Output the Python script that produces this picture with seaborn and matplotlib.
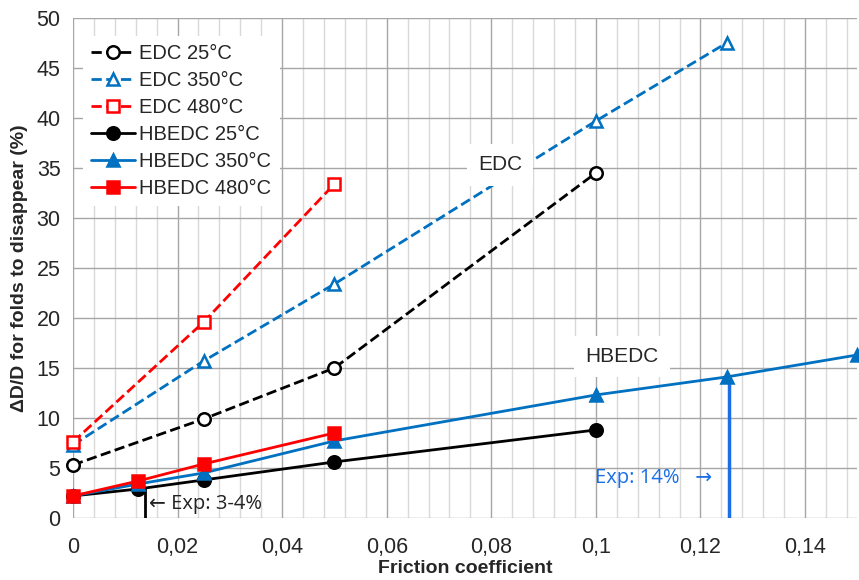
import numpy as np
import pandas as pd
import seaborn as sb
import matplotlib.pyplot as plt

# friction coefficient values and dD/D (%)
edc25_x = [0, 0.025, 0.05, 0.1]
edc25_y = [5.3, 9.9, 15.0, 34.5]
edc350_x = [0, 0.025, 0.05, 0.1, 0.125]
edc350_y = [7.3, 15.7, 23.4, 39.7, 47.5]
edc480_x = [0, 0.025, 0.05]
edc480_y = [7.6, 19.6, 33.4]
hb25_x = [0, 0.0125, 0.025, 0.05, 0.1]
hb25_y = [2.2, 2.9, 3.8, 5.6, 8.8]
hb350_x = [0, 0.0125, 0.025, 0.05, 0.1, 0.125, 0.15]
hb350_y = [2.2, 3.4, 4.5, 7.7, 12.3, 14.1, 16.3]
hb480_x = [0, 0.0125, 0.025, 0.05]
hb480_y = [2.2, 3.7, 5.4, 8.5]

exp_low_x = 0.0137
exp_low_y = 3.0
exp_high_x = 0.1255
exp_high_y = 14.1

xticks = [0, 0.02, 0.04, 0.06, 0.08, 0.1, 0.12, 0.14]
xtick_labels = ["0", "0,02", "0,04", "0,06", "0,08", "0,1", "0,12", "0,14"]

sb.set_style("white")
plt.rcParams['font.family'] = ['Liberation Sans', 'DejaVu Sans']

black = "#000000"
blue = "#0070C0"
red = "#FF0000"

fig = plt.figure(figsize=(8.59, 5.8), dpi=100)
ax = fig.add_axes([0.085, 0.107, 0.913, 0.862])

series = [
    (edc25_x, edc25_y, "EDC 25°C", black, "--", "o", "white"),
    (edc350_x, edc350_y, "EDC 350°C", blue, "--", "^", "white"),
    (edc480_x, edc480_y, "EDC 480°C", red, "--", "s", "white"),
    (hb25_x, hb25_y, "HBEDC 25°C", black, "-", "o", black),
    (hb350_x, hb350_y, "HBEDC 350°C", blue, "-", "^", blue),
    (hb480_x, hb480_y, "HBEDC 480°C", red, "-", "s", red),
]
for xs, ys, name, col, ls, mk, fc in series:
    df = pd.DataFrame({"x": xs, "y": ys})
    sb.lineplot(data=df, x="x", y="y", ax=ax, color=col, linestyle=ls, linewidth=2,
                marker=mk, markersize=9, markerfacecolor=fc, markeredgecolor=col,
                markeredgewidth=1.8, label=name, zorder=3, clip_on=False)

# experimental markers
ax.plot([exp_low_x, exp_low_x], [0, exp_low_y], color=black, linewidth=2, zorder=2)
ax.plot([exp_high_x, exp_high_x], [0, exp_high_y], color="#1A6FE8", linewidth=2.5, zorder=2)
ax.text(0.0146, 1.4, "\u2190 Exp: 3-4%", fontsize=14.5, color="#222222", va="center",
        family=['Open Sans', 'DejaVu Sans'])
ax.text(0.1222, 4.0, "Exp: 14%   \u2192", fontsize=14.5, color="#1A6FE8", va="center", ha="right",
        family=['Open Sans', 'DejaVu Sans'])

ax.text(0.0817, 35.3, "EDC", fontsize=15, ha="center", va="center",
        bbox=dict(facecolor="white", edgecolor="none", pad=8), zorder=4)
ax.text(0.105, 16.1, "HBEDC", fontsize=15, ha="center", va="center",
        bbox=dict(facecolor="white", edgecolor="none", pad=8), zorder=4)

ax.set_xlim(0, 0.15)
ax.set_ylim(0, 50)
ax.set_xticks(xticks)
ax.set_xticklabels(xtick_labels)
ax.set_xticks(np.arange(0, 0.1501, 0.004), minor=True)
ax.set_yticks(range(0, 51, 5))
ax.grid(which="major", color="#A6A6A6", linewidth=1)
ax.grid(which="minor", axis="x", color="#D9D9D9", linewidth=1)
ax.tick_params(axis="both", which="both", length=0, labelsize=15.5)
ax.tick_params(axis="x", pad=14)
ax.tick_params(axis="y", pad=9)
for s in ax.spines.values():
    s.set_visible(False)

ax.set_xlabel("Friction coefficient", fontsize=14, fontweight="bold", labelpad=1)
ax.set_ylabel("\u0394D/D for folds to disappear (%)", fontsize=14, fontweight="bold", labelpad=6)

leg = ax.legend(loc="upper left", bbox_to_anchor=(0.0, 0.985), fontsize=14.5, frameon=True,
                handlelength=2.2, handletextpad=0.2, labelspacing=0.4, borderpad=0.4)
leg.get_frame().set_edgecolor("none")
leg.get_frame().set_facecolor("white")
leg.get_frame().set_alpha(1)

plt.savefig("out.png", dpi=100)
